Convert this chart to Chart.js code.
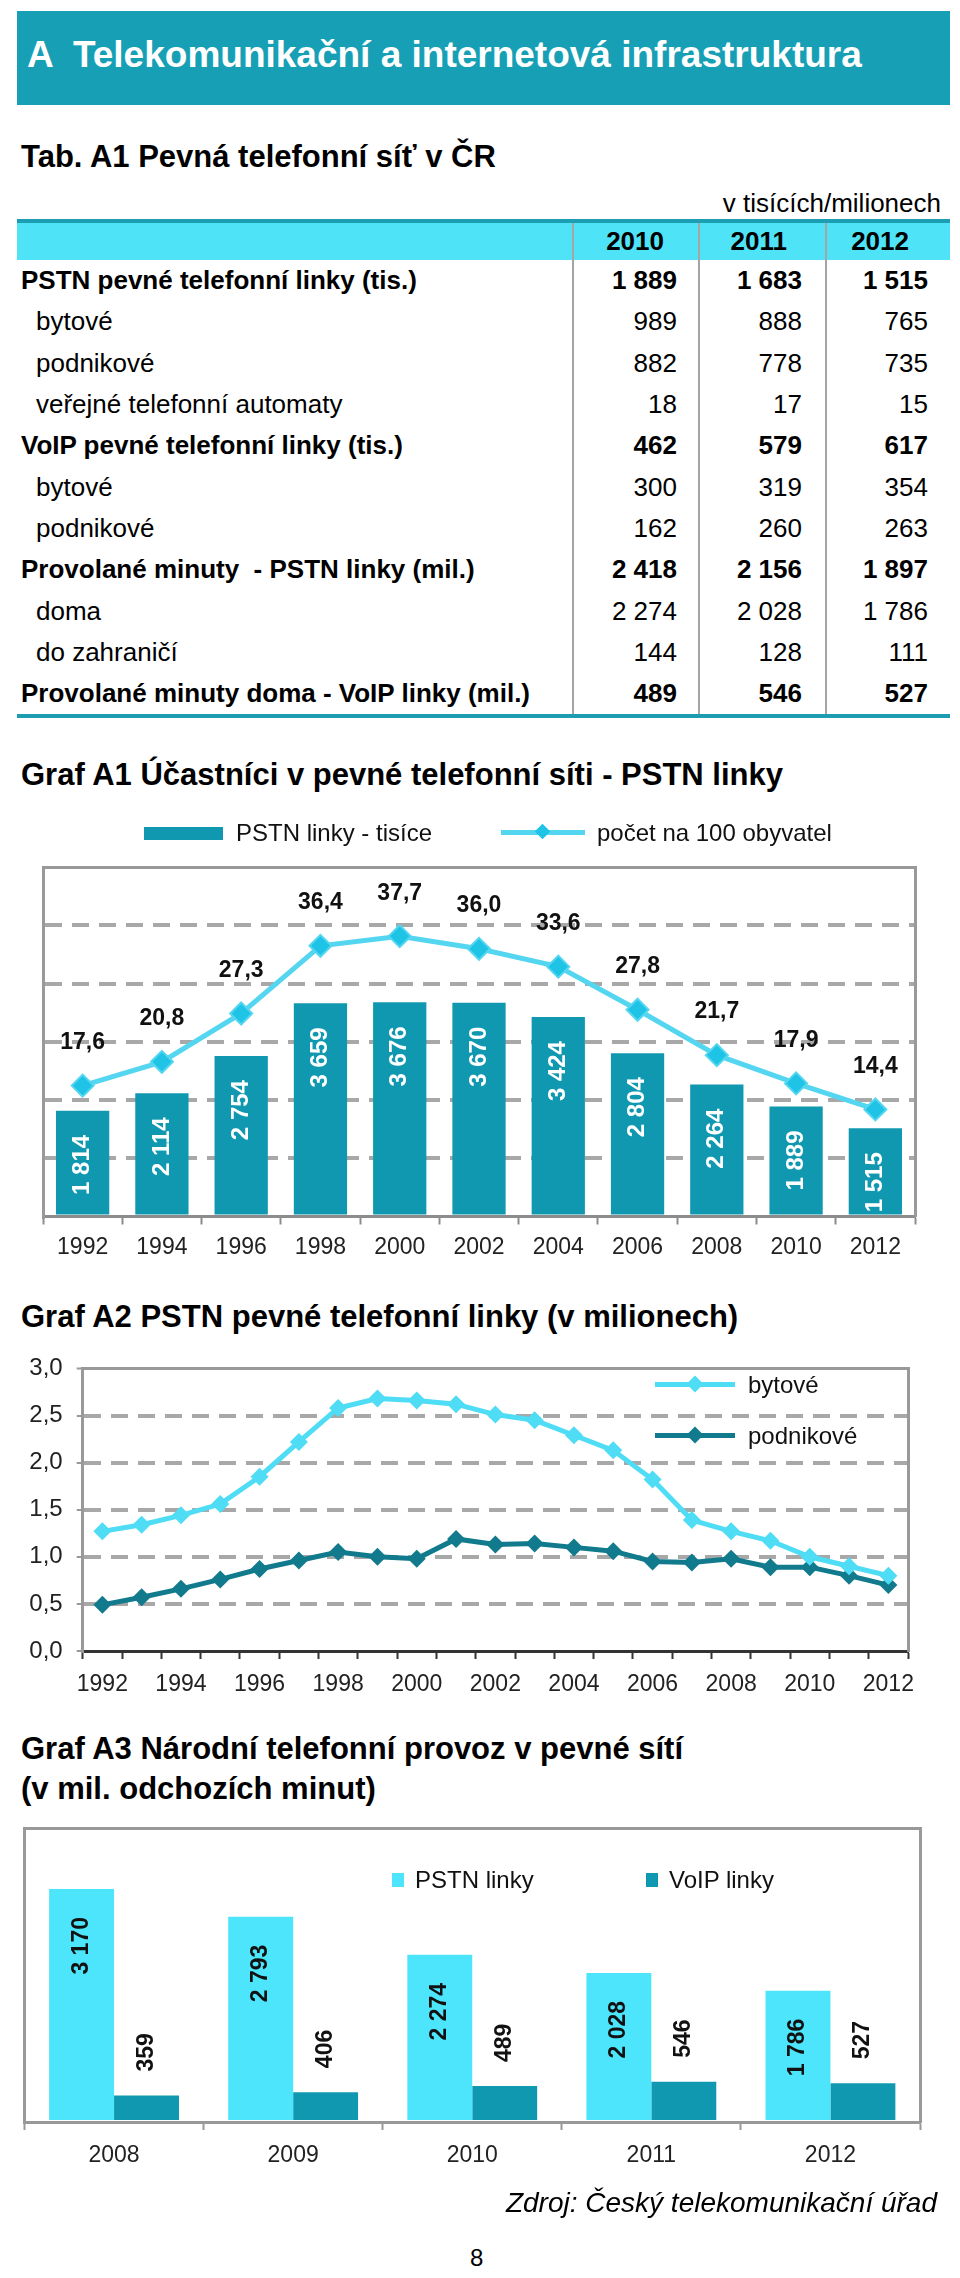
<!DOCTYPE html>
<html lang="cs">
<head>
<meta charset="utf-8">
<title>Pevná telefonní síť v ČR</title>
<script src="https://cdn.jsdelivr.net/npm/chart.js@4.4.1/dist/chart.umd.min.js"></script>
<style>
  html, body { margin: 0; padding: 0; background: #fff; }
  body {
    width: 960px; height: 2278px; position: relative; overflow: hidden;
    font-family: "Liberation Sans", Arial, sans-serif; color: #000;
  }
  .abs { position: absolute; white-space: pre; }
  #banner { left: 17px; top: 11px; width: 933px; height: 94px; background: #17a0b5; }
  #banner span { position: absolute; left: 10px; top: 22px; color: #fff; font-size: 37px; font-weight: bold; line-height: 44px; }
  .title { font-size: 31px; font-weight: bold; line-height: 37px; left: 21px; }
  .t26 { font-size: 26px; line-height: 31px; }
  .lg { font-size: 24px; line-height: 29px; color: #111; }
  canvas { position: absolute; left: 0; }
</style>
</head>
<body>
<div id="banner" class="abs"><span>A  Telekomunikační a internetová infrastruktura</span></div>
<div class="abs title" style="top:138px">Tab. A1 Pevná telefonní síť v ČR</div>
<div class="abs t26" style="right:19px;top:188px">v tisících/milionech</div>

<div class="abs title" style="top:756px">Graf A1 Účastníci v pevné telefonní síti - PSTN linky</div>
<canvas id="a1" width="960" height="440" style="top:840px"></canvas>
<div class="abs" style="left:144px;top:827px;width:79px;height:13px;background:#1098b0"></div>
<div class="abs lg" style="left:236px;top:818px">PSTN linky - tisíce</div>
<div class="abs" style="left:501px;top:830px;width:84px;height:5px;background:#55d6f0"></div>
<div class="abs" style="left:537px;top:826px;width:11px;height:11px;background:#1ec3e6;transform:rotate(45deg)"></div>
<div class="abs lg" style="left:597px;top:818px">počet na 100 obyvatel</div>

<div class="abs title" style="top:1298px">Graf A2 PSTN pevné telefonní linky (v milionech)</div>
<canvas id="a2" width="960" height="380" style="top:1340px"></canvas>
<div class="abs" style="left:655px;top:1382px;width:80px;height:5px;background:#4fdcf5"></div>
<div class="abs" style="left:689px;top:1378px;width:12px;height:12px;background:#4fdcf5;transform:rotate(45deg)"></div>
<div class="abs lg" style="left:748px;top:1370px">bytové</div>
<div class="abs" style="left:655px;top:1433px;width:80px;height:5px;background:#117b8d"></div>
<div class="abs" style="left:689px;top:1429px;width:12px;height:12px;background:#117b8d;transform:rotate(45deg)"></div>
<div class="abs lg" style="left:748px;top:1421px">podnikové</div>

<div class="abs title" style="top:1729px;line-height:40px">Graf A3 Národní telefonní provoz v pevné sítí
(v mil. odchozích minut)</div>
<canvas id="a3" width="960" height="380" style="top:1810px"></canvas>
<div class="abs" style="left:392px;top:1873px;width:12px;height:14px;background:#4de5fb"></div>
<div class="abs lg" style="left:415px;top:1865px">PSTN linky</div>
<div class="abs" style="left:646px;top:1873px;width:12px;height:14px;background:#1098b0"></div>
<div class="abs lg" style="left:669px;top:1865px">VoIP linky</div>

<div class="abs" style="right:23px;top:2186px;font-size:28px;line-height:34px;font-style:italic">Zdroj: Český telekomunikační úřad</div>
<div class="abs" style="left:470px;top:2243px;font-size:24px;line-height:29px">8</div>

<script>
// ---------- Data ----------

const tabYears = ["2010", "2011", "2012"];
const tabLabels = [
  "PSTN pevné telefonní linky (tis.)", "bytové", "podnikové", "veřejné telefonní automaty",
  "VoIP pevné telefonní linky (tis.)", "bytové", "podnikové",
  "Provolané minuty  - PSTN linky (mil.)", "doma", "do zahraničí",
  "Provolané minuty doma - VoIP linky (mil.)",
];
const tabBold = [true, false, false, false, true, false, false, true, false, false, true];
const tab2010 = [1889, 989, 882, 18, 462, 300, 162, 2418, 2274, 144, 489];
const tab2011 = [1683, 888, 778, 17, 579, 319, 260, 2156, 2028, 128, 546];
const tab2012 = [1515, 765, 735, 15, 617, 354, 263, 1897, 1786, 111, 527];

const a1Years = ["1992", "1994", "1996", "1998", "2000", "2002", "2004", "2006", "2008", "2010", "2012"];
const a1Lines = [1814, 2114, 2754, 3659, 3676, 3670, 3424, 2804, 2264, 1889, 1515];
const a1Per100 = [17.6, 20.8, 27.3, 36.4, 37.7, 36.0, 33.6, 27.8, 21.7, 17.9, 14.4];

const a2Years = ["1992", "1993", "1994", "1995", "1996", "1997", "1998", "1999", "2000", "2001", "2002",
  "2003", "2004", "2005", "2006", "2007", "2008", "2009", "2010", "2011", "2012"];
const a2Bytove = [1.27, 1.34, 1.44, 1.56, 1.85, 2.22, 2.58, 2.68, 2.66, 2.62, 2.51,
  2.45, 2.29, 2.13, 1.82, 1.39, 1.27, 1.17, 1.0, 0.9, 0.8];
const a2Podnikove = [0.49, 0.57, 0.66, 0.76, 0.87, 0.96, 1.05, 1.0, 0.98, 1.19, 1.13,
  1.14, 1.1, 1.06, 0.95, 0.94, 0.98, 0.89, 0.89, 0.8, 0.7];

const a3Years = ["2008", "2009", "2010", "2011", "2012"];
const a3Pstn = [3170, 2793, 2274, 2028, 1786];
const a3Voip = [359, 406, 489, 546, 527];

// ---------- Helpers ----------

const FONT = "'Liberation Sans', Arial, sans-serif";
Chart.defaults.font.family = FONT;
Chart.defaults.color = "#222";

function fmt(n) {
  return String(n).replace(/\B(?=(\d{3})+(?!\d))/g, " ");
}

function dec(n) {
  return n.toFixed(1).replace(".", ",");
}

function el(cls, style, text) {
  const d = document.createElement("div");
  d.className = cls;
  d.setAttribute("style", style);
  if (text !== undefined) d.textContent = text;
  document.body.appendChild(d);
  return d;
}

// dashed inner grid, solid top edge, nothing at zero (the x axis draws that)
function boxGrid(max, dashed) {
  return {
    grid: {
      color: (c) => !c.tick || c.tick.value === 0 ? "rgba(0,0,0,0)"
        : c.tick.value === max ? "#999" : dashed ? "#a8a8a8" : "rgba(0,0,0,0)",
      lineWidth: (c) => c.tick && c.tick.value === max ? 3 : 4,
      drawTicks: false,
    },
    border: {
      display: true, color: "#999", width: 3,
      dash: (c) => c.tick && c.tick.value > 0 && c.tick.value < max ? [17, 10] : [],
    },
  };
}

function rightEdge() {
  return {
    position: "right", min: 0, max: 1,
    ticks: { display: false },
    grid: { drawOnChartArea: false, drawTicks: false },
    border: { display: true, color: "#999", width: 3 },
    afterFit: (s) => { s.width = 0; },
  };
}

function catAxis(labels, tickColor, padding, everyOther) {
  return {
    offset: true,
    grid: { offset: true, drawOnChartArea: false, drawTicks: true, tickLength: 8, tickWidth: 2, tickColor },
    border: { display: true, color: tickColor, width: 3 },
    ticks: {
      autoSkip: false, maxRotation: 0, padding, color: "#222", font: { size: 23 },
      callback: (v, i) => (everyOther && i % 2 ? "" : labels[i]),
    },
    afterFit: (s) => { s.height = 50; },
  };
}

// rotated label; y is where the top end of the text sits (alignTop) or its bottom end
function vText(ctx, text, x, y, alignTop) {
  ctx.save();
  ctx.translate(x, y);
  ctx.rotate(-Math.PI / 2);
  ctx.textAlign = alignTop ? "right" : "left";
  ctx.textBaseline = "middle";
  ctx.fillText(text, 0, 0);
  ctx.restore();
}

// ---------- Table ----------

const TAB_TOP = 260, ROW_H = 41.3;
el("abs", "left:17px;top:219px;width:933px;height:4px;background:#1d9db2");
el("abs", "left:17px;top:223px;width:933px;height:37px;background:#4fe3f7");
const yearRight = [664, 787, 909];
tabYears.forEach((y, i) => {
  el("abs t26", `left:${yearRight[i] - 120}px;width:120px;text-align:right;top:226px;font-weight:bold`, y);
});
const valRight = [677, 802, 928];
const cols = [tab2010, tab2011, tab2012];
tabLabels.forEach((lab, r) => {
  const top = TAB_TOP + r * ROW_H + (ROW_H - 31) / 2;
  const w = tabBold[r] ? "font-weight:bold;" : "";
  el("abs t26", `${w}left:${tabBold[r] ? 21 : 36}px;top:${top}px`, lab);
  cols.forEach((col, c) => {
    el("abs t26", `${w}left:${valRight[c] - 140}px;width:140px;text-align:right;top:${top}px`, fmt(col[r]));
  });
});
[572, 698, 825].forEach((x) => {
  el("abs", `left:${x}px;top:223px;width:2px;height:491px;background:#a5a5a5`);
});
el("abs", "left:17px;top:714px;width:933px;height:4px;background:#1d9db2");

// ---------- Graf A1 ----------

const a1LabelPlugin = {
  id: "a1labels",
  afterDatasetsDraw(chart) {
    const ctx = chart.ctx;
    ctx.save();
    ctx.fillStyle = "#fff";
    ctx.font = `bold 24px ${FONT}`;
    chart.getDatasetMeta(0).data.forEach((bar, i) => {
      vText(ctx, fmt(a1Lines[i]), bar.x, bar.y + 24, true);
    });
    ctx.fillStyle = "#111";
    ctx.font = `bold 23px ${FONT}`;
    ctx.textAlign = "center";
    ctx.textBaseline = "middle";
    chart.getDatasetMeta(1).data.forEach((pt, i) => {
      ctx.fillText(dec(a1Per100[i]), pt.x, pt.y - 43);
    });
    ctx.restore();
  },
};

new Chart(document.getElementById("a1"), {
  data: {
    labels: a1Years,
    datasets: [
      {
        type: "bar", data: a1Lines, yAxisID: "y", order: 2,
        backgroundColor: "#1098b0", barPercentage: 0.672, categoryPercentage: 1,
      },
      {
        type: "line", data: a1Per100, yAxisID: "y1", order: 1,
        borderColor: "#55d6f0", borderWidth: 5, tension: 0,
        pointStyle: "rectRot", pointRadius: 11,
        pointBackgroundColor: "#1ec3e6", pointBorderColor: "#55d6f0", pointBorderWidth: 2,
      },
    ],
  },
  options: {
    responsive: false, animation: false,
    layout: { padding: { left: 43, right: 45, top: 27, bottom: 13.5 } },
    plugins: { legend: { display: false }, tooltip: { enabled: false } },
    scales: {
      x: catAxis(a1Years, "#8c8c8c", 9, false),
      y: Object.assign({
        min: 0, max: 6000, ticks: { display: false, stepSize: 1000 },
        afterFit: (s) => { s.width = 0; },
      }, boxGrid(6000, true)),
      y1: Object.assign(rightEdge(), { max: 47 }),
    },
  },
  plugins: [a1LabelPlugin],
});

// ---------- Graf A2 ----------

const a2y = Object.assign({
  min: 0, max: 3,
  ticks: { stepSize: 0.5, padding: 14, color: "#222", font: { size: 24 }, callback: (v) => dec(v) },
  afterFit: (s) => { s.width = 82.7; },
}, boxGrid(3, true));
a2y.grid.drawTicks = true;
a2y.grid.tickLength = 6;
a2y.grid.tickWidth = 2;
a2y.grid.tickColor = "#999";

new Chart(document.getElementById("a2"), {
  type: "line",
  data: {
    labels: a2Years,
    datasets: [
      {
        data: a2Bytove, borderColor: "#4fdcf5", borderWidth: 5, tension: 0,
        pointStyle: "rectRot", pointRadius: 9, pointBackgroundColor: "#4fdcf5", pointBorderWidth: 0,
      },
      {
        data: a2Podnikove, borderColor: "#117b8d", borderWidth: 5, tension: 0,
        pointStyle: "rectRot", pointRadius: 9, pointBackgroundColor: "#117b8d", pointBorderWidth: 0,
      },
    ],
  },
  options: {
    responsive: false, animation: false,
    layout: { padding: { left: 0, right: 52, top: 21, bottom: 19 } },
    plugins: { legend: { display: false }, tooltip: { enabled: false } },
    scales: {
      x: catAxis(a2Years, "#333", 12, true),
      y: a2y,
      yR: rightEdge(),
    },
  },
});

// ---------- Graf A3 ----------

const a3LabelPlugin = {
  id: "a3labels",
  afterDatasetsDraw(chart) {
    const ctx = chart.ctx;
    ctx.save();
    ctx.fillStyle = "#111";
    ctx.font = `bold 23px ${FONT}`;
    chart.getDatasetMeta(0).data.forEach((bar, i) => {
      vText(ctx, fmt(a3Pstn[i]), bar.x, bar.y + 28, true);
    });
    chart.getDatasetMeta(1).data.forEach((bar, i) => {
      vText(ctx, fmt(a3Voip[i]), bar.x, bar.y - 24, false);
    });
    ctx.restore();
  },
};

new Chart(document.getElementById("a3"), {
  type: "bar",
  data: {
    labels: a3Years,
    datasets: [
      { data: a3Pstn, backgroundColor: "#4de5fb", categoryPercentage: 0.725, barPercentage: 1 },
      { data: a3Voip, backgroundColor: "#1098b0", categoryPercentage: 0.725, barPercentage: 1 },
    ],
  },
  options: {
    responsive: false, animation: false,
    layout: { padding: { left: 24.5, right: 40, top: 18, bottom: 18 } },
    plugins: { legend: { display: false }, tooltip: { enabled: false } },
    scales: {
      x: catAxis(a3Years, "#999", 12, false),
      y: Object.assign({
        min: 0, max: 4000, ticks: { display: false, stepSize: 1000 },
        afterFit: (s) => { s.width = 0; },
      }, boxGrid(4000, false)),
      yR: rightEdge(),
    },
  },
  plugins: [a3LabelPlugin],
});
</script>
</body>
</html>
